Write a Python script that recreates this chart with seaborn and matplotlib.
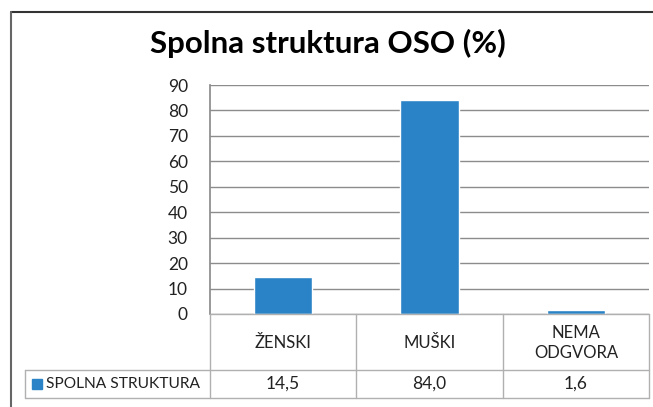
import matplotlib
matplotlib.use('Agg')
import matplotlib.pyplot as plt
import seaborn as sns
import pandas as pd
from matplotlib.lines import Line2D
from matplotlib.patches import Rectangle

# data
categories = ['ŽENSKI', 'MUŠKI', 'NEMA\nODGVORA']
values = [14.5, 84.0, 1.6]
series_name = 'SPOLNA STRUKTURA'
title = 'Spolna struktura OSO (%)'
yticks = [0, 10, 20, 30, 40, 50, 60, 70, 80, 90]

bar_color = '#2A83C6'
font = ['Lato', 'DejaVu Sans']

W, H = 653, 407
sns.set_theme(style='white')
plt.rcParams['font.family'] = font

df = pd.DataFrame({'cat': categories, 'val': values})

fig = plt.figure(figsize=(W / 100, H / 100), dpi=100)

# plot area in pixel coordinates
px_left, px_right, px_top, px_bottom = 210, 649, 85, 314
ax = fig.add_axes([px_left / W, 1 - px_bottom / H,
                   (px_right - px_left) / W, (px_bottom - px_top) / H])
sns.barplot(data=df, x='cat', y='val', color=bar_color, width=0.4,
            saturation=1, ax=ax)
ax.set_ylim(0, 90)
ax.set_xlim(-0.5, len(categories) - 0.5)
ax.set_yticks(yticks)
ax.set_yticklabels([str(t) for t in yticks], fontsize=12.5, color='#222222')
ax.set_xticks([])
ax.set_xlabel('')
ax.set_ylabel('')
ax.yaxis.grid(True, color='#8c8c8c', linewidth=1)
ax.set_axisbelow(True)
for s in ['top', 'right', 'bottom']:
    ax.spines[s].set_visible(False)
ax.spines['left'].set_color('#8c8c8c')
ax.tick_params(axis='y', length=0, pad=16)

# overlay axes in pixel coordinates for frame, title and data table
ov = fig.add_axes([0, 0, 1, 1], zorder=5)
ov.set_xlim(0, W)
ov.set_ylim(H, 0)
ov.axis('off')
ov.patch.set_alpha(0)

# outer chart frame
ov.add_line(Line2D([11, W], [12, 12], color='#333333', lw=1.5))
ov.add_line(Line2D([11, 11], [12, H], color='#666666', lw=1.5))

ov.text(328, 43, title, ha='center', va='center', fontsize=22.5,
        fontweight='bold', color='black')

# data table
gc = '#b0b0b0'
n = len(categories)
col_w = (px_right - px_left) / n
row1_bottom, row2_bottom = 370, 398
ov.add_line(Line2D([px_left, px_right], [px_bottom, px_bottom], color=gc, lw=1))
ov.add_line(Line2D([25, px_right], [row1_bottom, row1_bottom], color=gc, lw=1))
ov.add_line(Line2D([25, px_right], [row2_bottom, row2_bottom], color=gc, lw=1))
ov.add_line(Line2D([25, 25], [row1_bottom, row2_bottom], color=gc, lw=1))
for i in range(n + 1):
    x = px_left + i * col_w
    ov.add_line(Line2D([x, x], [px_bottom, row2_bottom], color=gc, lw=1))

for i, (c, v) in enumerate(zip(categories, values)):
    cx = px_left + (i + 0.5) * col_w
    ov.text(cx, (px_bottom + row1_bottom) / 2 + 1, c, ha='center', va='center',
            fontsize=12, color='#222222', linespacing=1.25)
    ov.text(cx, (row1_bottom + row2_bottom) / 2, f'{v:.1f}'.replace('.', ','),
            ha='center', va='center', fontsize=12.5, color='#222222')

ov.add_patch(Rectangle((32, 379), 10, 10, color=bar_color))
ov.text(46, (row1_bottom + row2_bottom) / 2, series_name, ha='left', va='center',
        fontsize=11.2, color='#222222')

fig.savefig('out.png', dpi=100)
